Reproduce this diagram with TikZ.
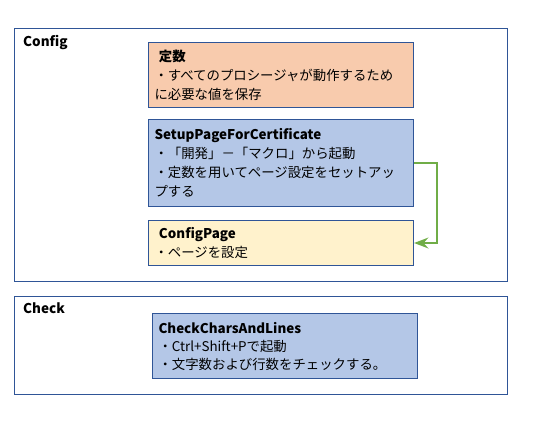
\documentclass[tikz,border=0pt]{standalone}
\usepackage{fontspec}
\setmainfont{Noto Sans CJK JP}
\usepackage{tikz}
\usetikzlibrary{arrows.meta,positioning,calc}
\definecolor{frameBlue}{RGB}{47,85,151}
\definecolor{constSalmon}{RGB}{248,203,173}
\definecolor{procBlue}{RGB}{180,199,231}
\definecolor{pageYellow}{RGB}{255,242,204}
\definecolor{flowGreen}{RGB}{112,173,71}

\begin{document}
\begin{tikzpicture}[x=1pt, y=-1pt,
          group/.style={rectangle, draw=frameBlue, line width=1.1pt, anchor=north west},
          grouptitle/.style={anchor=north west, inner sep=0pt, font=\fontsize{13.5}{16}\selectfont\bfseries},
          proc/.style={rectangle, draw=frameBlue, line width=1pt, anchor=north west,
            minimum width=265pt, text width=253pt, inner xsep=6pt, align=left,
            font=\fontsize{13.4}{19}\selectfont},
          >=Stealth
        ]
          \useasboundingbox (0,0) rectangle (548,423);
          % Config
          \node[group, minimum width=493pt, minimum height=253pt] (config) at (14,28) {};
          \node[grouptitle] (configtitle) at (23,35) {Config};
          \node[proc, fill=constSalmon, minimum height=65pt] (const) at (148,42)
            {\textbf{\ 定数}\\・すべてのプロシージャが動作するため\\に必要な値を保存};
          \node[proc, fill=procBlue, minimum height=87pt] (setup) at (148,119)
            {\textbf{SetupPageForCertificate}\\・「開発」－「マクロ」から起動\\・定数を用いてページ設定をセットアッ\\プする};
          \node[proc, fill=pageYellow, minimum height=45pt] (cfgpage) at (148,220)
            {\textbf{\ ConfigPage}\\・ページを設定};
          \draw[->, flowGreen, line width=2.5pt] (setup.east) -- ++(23,0) |- (cfgpage.east);
          % Check
          \node[group, minimum width=493pt, minimum height=98pt] (check) at (14,296) {};
          \node[grouptitle] (checktitle) at (23,303) {Check};
          \node[proc, fill=procBlue, minimum height=65pt, font=\fontsize{13.4}{18}\selectfont] (chars) at (152,313)
            {\textbf{CheckCharsAndLines}\\・Ctrl+Shift+Pで起動\\・文字数および行数をチェックする。};
        \end{tikzpicture}
\end{document}
